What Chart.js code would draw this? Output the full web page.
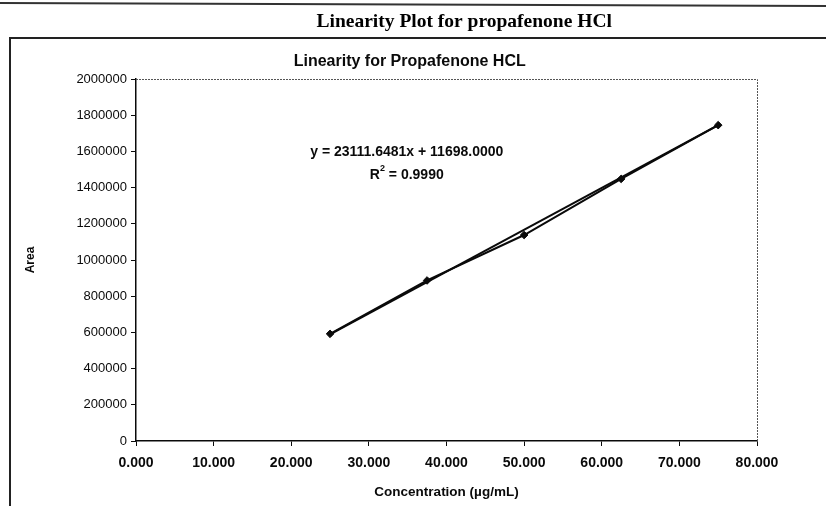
<!DOCTYPE html>
<html>
<head>
<meta charset="utf-8">
<script src="https://cdn.jsdelivr.net/npm/chart.js@4.4.1/dist/chart.umd.min.js"></script>
<style>
  html, body { margin: 0; padding: 0; background: #ffffff; }
  #wrap { width: 826px; height: 506px; position: relative; }
</style>
</head>
<body>
<div id="wrap"><canvas id="c" width="826" height="506"></canvas></div>
<script>
// ---- data ----
const concentrations = [25, 37.5, 50, 62.5, 75];          // µg/mL
const areas = [592000, 887000, 1138000, 1448000, 1745000]; // peak area
const slope = 23111.6481;
const intercept = 11698.0;
const rSquared = '0.9990';
const xTickMin = 0, xTickMax = 80, xTickStep = 10;
const yTickMin = 0, yTickMax = 2000000, yTickStep = 200000;
const pageTitle = 'Linearity Plot for propafenone HCl';
const chartTitle = 'Linearity for Propafenone HCL';
const xTitle = 'Concentration (µg/mL)';
const yTitle = 'Area';

const points = concentrations.map((x, i) => ({ x: x, y: areas[i] }));
const trendX = [concentrations[0], concentrations[concentrations.length - 1]];
const trend = trendX.map(x => ({ x: x, y: slope * x + intercept }));

const INK = '#0a0a0a';
const SANS = '"Liberation Sans", Arial, sans-serif';
const SERIF = '"Liberation Serif", "Times New Roman", serif';

const decor = {
  id: 'decor',
  beforeDraw(chart) {
    const ctx = chart.ctx;
    ctx.save();
    ctx.fillStyle = '#ffffff';
    ctx.fillRect(0, 0, chart.width, chart.height);
    // scanned page rule at top
    ctx.strokeStyle = '#333333';
    ctx.lineWidth = 2;
    ctx.beginPath(); ctx.moveTo(0, 3); ctx.lineTo(chart.width, 6); ctx.stroke();
    // outer chart frame
    ctx.strokeStyle = '#222222';
    ctx.lineWidth = 2;
    ctx.beginPath();
    ctx.moveTo(10, chart.height);
    ctx.lineTo(10, 38);
    ctx.lineTo(chart.width, 38);
    ctx.stroke();
    ctx.restore();
  },
  beforeDatasetsDraw(chart) {
    const ctx = chart.ctx;
    const a = chart.chartArea;
    ctx.save();
    ctx.strokeStyle = '#555555';
    ctx.lineWidth = 1;
    ctx.setLineDash([2, 1]);
    ctx.beginPath();
    ctx.moveTo(a.left, a.top + 0.5);
    ctx.lineTo(a.right + 0.5, a.top + 0.5);
    ctx.lineTo(a.right + 0.5, a.bottom);
    ctx.stroke();
    ctx.restore();
  },
  afterDraw(chart) {
    const ctx = chart.ctx;
    const a = chart.chartArea;
    ctx.save();
    ctx.fillStyle = '#000000';
    ctx.textAlign = 'center';
    ctx.textBaseline = 'middle';
    // page heading and chart title
    ctx.font = 'bold 19.5px ' + SERIF;
    ctx.fillText(pageTitle, chart.width * 0.562, 22);
    ctx.fillStyle = INK;
    ctx.font = 'bold 16px ' + SANS;
    ctx.fillText(chartTitle, chart.width * 0.496, 62);
    // trendline equation
    const cx = a.left + (a.right - a.left) * 0.436;
    ctx.font = 'bold 14px ' + SANS;
    ctx.fillText('y = ' + slope.toFixed(4) + 'x + ' + intercept.toFixed(4), cx, a.top + 73);
    // R² line
    const r1 = 'R', r2 = ' = ' + rSquared;
    const w1 = ctx.measureText(r1).width;
    ctx.font = 'bold 9px ' + SANS;
    const wsup = ctx.measureText('2').width;
    ctx.font = 'bold 14px ' + SANS;
    const w2 = ctx.measureText(r2).width;
    const total = w1 + wsup + w2;
    const sx = cx - total / 2;
    const ry = a.top + 96;
    ctx.textAlign = 'left';
    ctx.fillText(r1, sx, ry);
    ctx.font = 'bold 9px ' + SANS;
    ctx.fillText('2', sx + w1, ry - 6);
    ctx.font = 'bold 14px ' + SANS;
    ctx.fillText(r2, sx + w1 + wsup, ry);
    ctx.restore();
  }
};

new Chart(document.getElementById('c'), {
  type: 'scatter',
  data: {
    datasets: [
      {
        label: 'Area',
        data: points,
        showLine: true,
        borderColor: INK,
        backgroundColor: INK,
        borderWidth: 2,
        pointStyle: 'rectRot',
        pointRadius: 3.8,
        pointBorderWidth: 1,
        order: 1
      },
      {
        label: 'Linear trend',
        data: trend,
        showLine: true,
        borderColor: INK,
        borderWidth: 2,
        pointRadius: 0,
        order: 2
      }
    ]
  },
  options: {
    responsive: false,
    animation: false,
    devicePixelRatio: 1,
    layout: { padding: { left: 12, right: 69, top: 79, bottom: 0 } },
    plugins: {
      legend: { display: false },
      tooltip: { enabled: false },
      title: { display: false },
      subtitle: { display: false }
    },
    scales: {
      x: {
        type: 'linear',
        min: xTickMin,
        max: xTickMax,
        afterFit(s) { s.height = 65; },
        ticks: {
          stepSize: xTickStep,
          color: INK,
          padding: 9,
          font: { family: SANS, size: 14, weight: 'bold' },
          callback: v => Number(v).toFixed(3),
          maxRotation: 0
        },
        grid: { drawOnChartArea: false, drawTicks: true, tickLength: 5, color: INK, lineWidth: 1 },
        border: { display: true, color: INK, width: 1.5 },
        title: {
          display: true,
          text: xTitle,
          color: INK,
          font: { family: SANS, size: 13.5, weight: 'bold', lineHeight: 1.2 },
          padding: { top: 0, bottom: 6 }
        }
      },
      y: {
        type: 'linear',
        min: yTickMin,
        max: yTickMax,
        afterFit(s) { s.width = 124; },
        ticks: {
          stepSize: yTickStep,
          color: INK,
          padding: 4,
          font: { family: SANS, size: 13 },
          callback: v => String(v)
        },
        grid: { drawOnChartArea: false, drawTicks: true, tickLength: 5, color: INK, lineWidth: 1 },
        border: { display: true, color: INK, width: 1.5 },
        title: {
          display: true,
          text: yTitle,
          color: INK,
          font: { family: SANS, size: 12, weight: 'bold', lineHeight: 1.2 },
          padding: { top: 11, bottom: 0 }
        }
      }
    }
  },
  plugins: [decor]
});
</script>
</body>
</html>
